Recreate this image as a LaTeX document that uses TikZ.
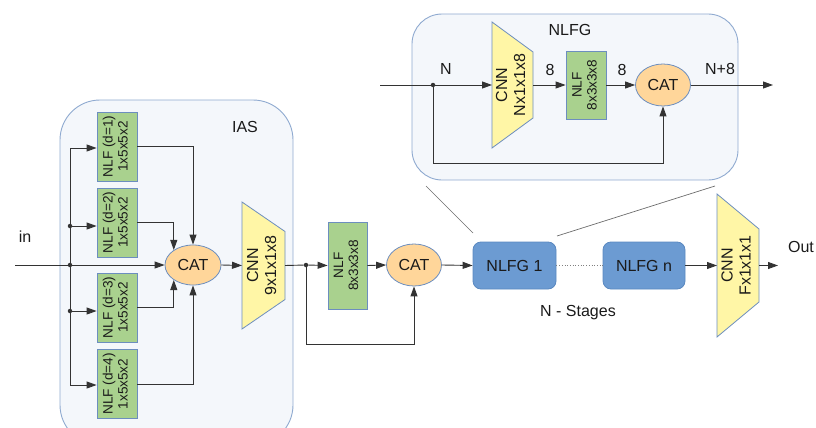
\documentclass[tikz,border=0pt]{standalone}
\usepackage{fontspec}
\usepackage{graphicx}
\setmainfont{Liberation Sans}
\usetikzlibrary{arrows.meta,shapes.geometric,calc}
\definecolor{bgfill}{HTML}{F4F7FB}
\definecolor{bgline}{HTML}{8FAAD0}
\definecolor{nlffill}{HTML}{A9D18E}
\definecolor{boxline}{HTML}{6C8EBF}
\definecolor{catfill}{HTML}{FFD69A}
\definecolor{cnnfill}{HTML}{FFF6A6}
\definecolor{stagefill}{HTML}{6C9BD2}
\definecolor{stageline}{HTML}{5A88C0}
\definecolor{linec}{HTML}{333333}
\definecolor{txt}{HTML}{1A1A1A}
\newcommand{\vtext}[2]{\rotatebox{90}{\begin{tabular}{@{}c@{}}#1\\#2\end{tabular}}}
\begin{document}
\begin{tikzpicture}[x=1pt,y=-1pt,
  font=\fontsize{16}{18}\selectfont, text=txt,
  bgbox/.style={fill=bgfill,draw=bgline,line width=0.9pt},
  nlf/.style={draw=boxline,fill=nlffill,line width=0.8pt,minimum width=40pt,minimum height=69pt,inner sep=0pt,font=\fontsize{13.6}{15}\selectfont},
  catnode/.style={ellipse,draw=boxline,fill=catfill,line width=0.8pt,minimum width=56pt,minimum height=40pt,inner sep=0pt},
  cnnbox/.style={inner sep=0pt,outer sep=0pt},
  cnnshape/.style={draw=boxline,fill=cnnfill,line width=0.8pt},
  stage/.style={draw=stageline,fill=stagefill,rounded corners=8pt,line width=0.8pt,minimum width=83pt,minimum height=47pt,inner sep=0pt},
  arr/.style={draw=linec,line width=0.9pt,-{Triangle[length=10pt,width=7pt]}},
  wire/.style={draw=linec,line width=0.9pt},
  zoomline/.style={draw=gray!85!black,line width=0.7pt},
  junction/.style={circle,fill=linec,inner sep=0pt,minimum size=4.5pt},
  lbl/.style={inner sep=0pt}
]
\useasboundingbox (0,0) rectangle (816,428);

% background groups
\begin{scope}
  \clip (0,0) rectangle (816,428);
  \draw[bgbox,rounded corners=40pt] (60,100) rectangle (293,445);
\end{scope}
\draw[bgbox,rounded corners=30pt] (412,14) rectangle (738,180);

% zoom indicator lines
\coordinate (za) at (426,186);
\coordinate (zb) at (473,233);
\coordinate (zc) at (557,236);
\coordinate (zd) at (715,186);
\draw[zoomline] (za) -- (zb);
\draw[zoomline] (zc) -- (zd);

% labels
\node[lbl] (lin) at (25,237) {in};
\node[lbl] (lias) at (245,127) {IAS};
\node[lbl] (lnlfg) at (570,30) {NLFG};
\node[lbl] (ln) at (446,69) {N};
\node[lbl] (l8a) at (550,70) {8};
\node[lbl] (l8b) at (622,70) {8};
\node[lbl] (ln8) at (720,69) {N+8};
\node[lbl] (lout) at (801,247) {Out};
\node[lbl] (lstages) at (578,313) {N - Stages};

% ---------------- IAS ----------------
\node[nlf] (n1) at (117,146.5) {\vtext{NLF (d=1)}{1x5x5x2}};
\node[nlf] (n2) at (117,222.5) {\vtext{NLF (d=2)}{1x5x5x2}};
\node[nlf] (n3) at (117,307.5) {\vtext{NLF (d=3)}{1x5x5x2}};
\node[nlf] (n4) at (117,384) {\vtext{NLF (d=4)}{1x5x5x2}};
\node[catnode] (cat1) at (193,265) {CAT};

\node[cnnbox,minimum width=43pt,minimum height=127pt] (cnn1) at (263.5,265.5) {};
\draw[cnnshape] (cnn1.north west) -- ([yshift=-29.5pt]cnn1.north east) -- ([yshift=29.5pt]cnn1.south east) -- (cnn1.south west) -- cycle;
\node[lbl] (cnn1t) at (cnn1.center) {\vtext{CNN}{9x1x1x8}};

\coordinate (inL) at (15,265);
\coordinate (b1) at (70,148);
\coordinate (b2) at (70,226);
\coordinate (b0) at (70,265);
\coordinate (b3) at (70,311);
\coordinate (b4) at (70,385);
\draw[wire] (b1) -- (b4);
\draw[arr] (inL) -- (cat1.west);
\draw[arr] (b1) -- (b1 -| n1.west);
\draw[arr] (b2) -- (b2 -| n2.west);
\draw[arr] (b3) -- (b3 -| n3.west);
\draw[arr] (b4) -- (b4 -| n4.west);
\node[junction] (j2) at (b2) {};
\node[junction] (j0) at (b0) {};
\node[junction] (j3) at (b3) {};
\draw[arr] (n1.east) -| (cat1.north);
\draw[arr] (n2.east) -| (cat1.142);
\draw[arr] (n3.east) -| (cat1.218);
\draw[arr] (n4.east) -| (cat1.south);
\draw[arr] (cat1.east) -- (cnn1.west);

% ---------------- middle ----------------
\node[nlf,minimum width=39pt,minimum height=87pt] (nm) at (347.5,265.5) {\vtext{NLF}{8x3x3x8}};
\node[catnode,minimum width=55pt,minimum height=42pt] (cat2) at (414,265) {CAT};
\node[junction] (jm) at (306,265) {};
\coordinate (fb1) at (306,344);
\draw[wire] (cnn1.east) -- (jm);
\draw[arr] (jm) -- (nm.west);
\draw[arr] (nm.east) -- (cat2.west);
\draw[arr] (jm) -- (fb1) -| (cat2.south);

% ---------------- stages ----------------
\node[stage] (s1) at (514.5,265.5) {NLFG 1};
\node[stage,minimum width=82pt] (sn) at (644,265.5) {NLFG n};
\draw[arr] (cat2.east) -- (s1.west);
\draw[draw=gray,line width=0.7pt,dotted] (s1.east) -- (sn.west);

\node[cnnbox,minimum width=42pt,minimum height=143pt] (cnn3) at (738,265.5) {};
\draw[cnnshape] (cnn3.north west) -- ([yshift=-35pt]cnn3.north east) -- ([yshift=35pt]cnn3.south east) -- (cnn3.south west) -- cycle;
\node[lbl] (cnn3t) at (cnn3.center) {\vtext{CNN}{Fx1x1x1}};
\draw[arr] (sn.east) -- (cnn3.west);
\coordinate (outE) at (778,265.5);
\draw[arr] (cnn3.east) -- (outE);

% ---------------- NLFG detail ----------------
\node[cnnbox,minimum width=41pt,minimum height=126pt] (cnn2) at (512.5,85) {};
\draw[cnnshape] (cnn2.north west) -- ([yshift=-30pt]cnn2.north east) -- ([yshift=30pt]cnn2.south east) -- (cnn2.south west) -- cycle;
\node[lbl] (cnn2t) at (cnn2.center) {\vtext{CNN}{Nx1x1x8}};
\node[nlf,minimum height=68pt] (nd) at (586,85) {\vtext{NLF}{8x3x3x8}};
\node[catnode,minimum width=55pt,minimum height=42pt] (cat3) at (663,85) {CAT};
\coordinate (dinL) at (380,85);
\node[junction] (jd) at (433,85) {};
\coordinate (fb2) at (433,163);
\coordinate (doutE) at (773,85);
\draw[wire] (dinL) -- (jd);
\draw[arr] (jd) -- (cnn2.west);
\draw[arr] (cnn2.east) -- (nd.west);
\draw[arr] (nd.east) -- (cat3.west);
\draw[arr] (cat3.east) -- (doutE);
\draw[arr] (jd) -- (fb2) -| (cat3.south);
\end{tikzpicture}
\end{document}
